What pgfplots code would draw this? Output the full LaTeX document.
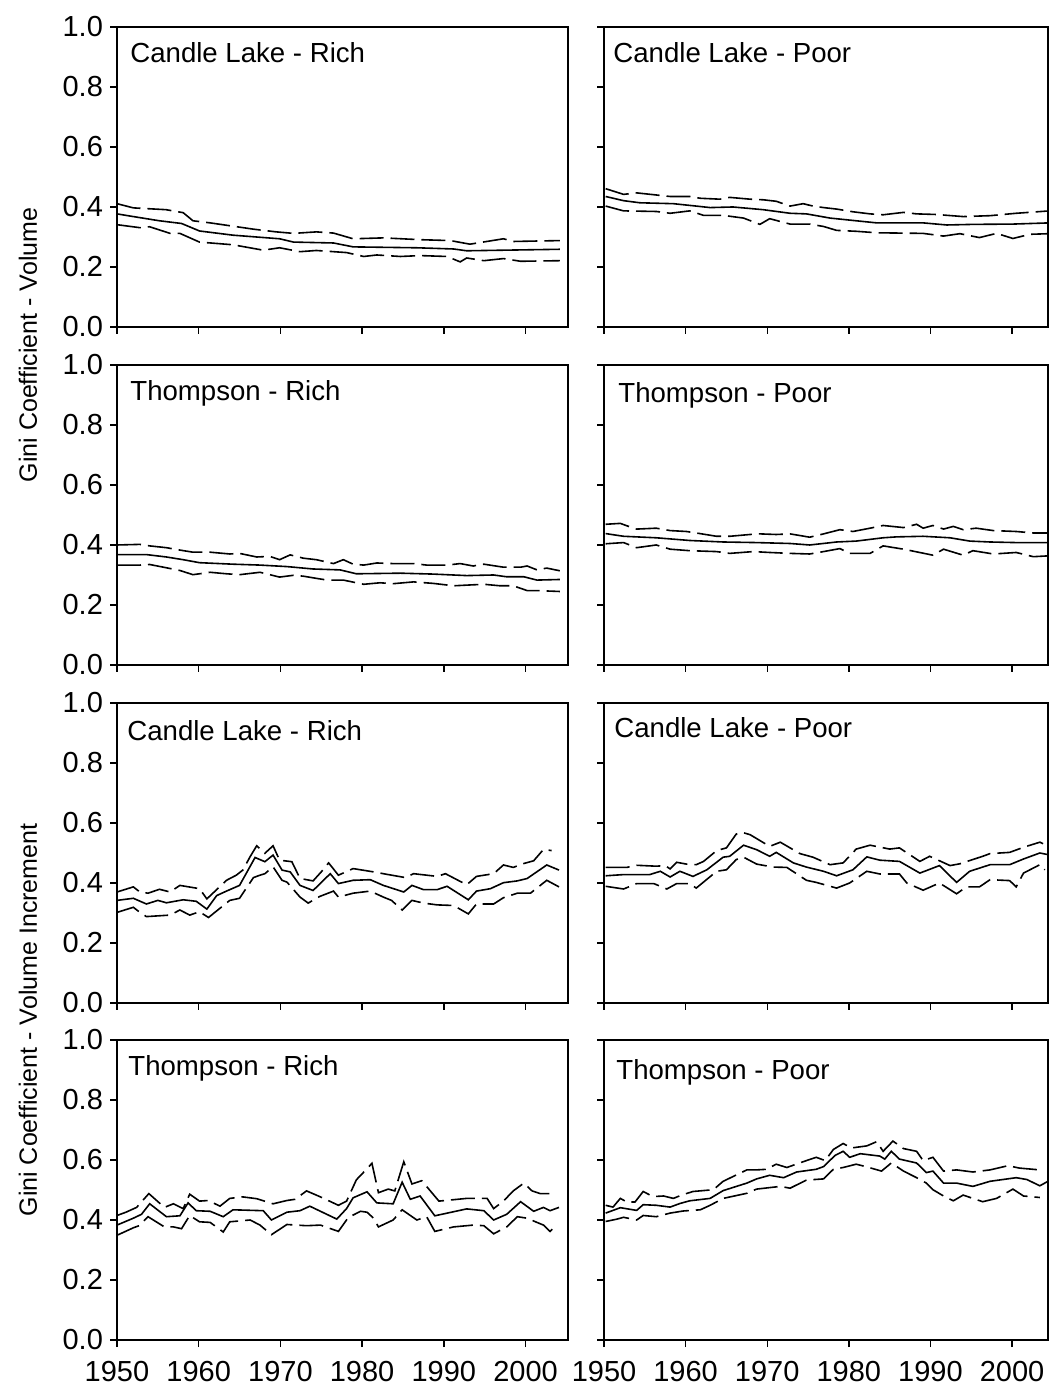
\documentclass[border=0pt]{standalone}
\usepackage{pgfplots}
\pgfplotsset{compat=1.18}
\usepackage{fontspec}
\setmainfont{Liberation Sans}
\pgfplotsset{
  panel/.style={
    scale only axis, height=150pt, ymin=0, ymax=1,
    xtick={1950,1960,1970,1980,1990,2000},
    ytick={0,0.2,0.4,0.6,0.8,1},
    tick align=outside, xtick pos=bottom, ytick pos=left,
    major tick length=3.5pt,
    axis line style={line width=0.7pt},
    every tick/.style={line width=0.7pt, black},
    tick label style={font=\fontsize{14.5}{17}\selectfont},
    /pgf/number format/assume math mode=true,
    xticklabel style={/pgf/number format/1000 sep={}, yshift=-3.5pt},
    yticklabel style={/pgf/number format/.cd, fixed, fixed zerofill, precision=1},
    clip=true,
  },
  leftp/.style={panel, width=225.5pt, xmin=1950, xmax=2005.2},
  rightp/.style={panel, width=222pt, xmin=1950, xmax=2004.4, yticklabels={}},
  mid/.style={black, line width=0.8pt},
  band/.style={black, line width=0.8pt, dash pattern=on 12pt off 3.5pt},
}
\newcommand{\ptitle}[3]{\node[anchor=north west, inner sep=0pt, font=\fontsize{13.8}{16}\selectfont] at (rel axis cs:0,1) [xshift=#1, yshift=#2] {#3};}
\begin{document}
\begin{tikzpicture}
\useasboundingbox (0,0) rectangle (524.5pt,695.5pt);
% ---------- Row 1 ----------
\begin{axis}[leftp, at={(58.5pt,532pt)}, anchor=south west, xticklabels={}]
\addplot[mid] coordinates {(1950,0.377)(1952,0.368)(1955.2,0.354)(1957.9,0.345)(1960.1,0.320)(1964.2,0.306)(1969.9,0.294)(1971.6,0.283)(1976.5,0.280)(1978.9,0.267)(1986.7,0.264)(1991.2,0.260)(1992.8,0.254)(2004.2,0.259)};
\addplot[band] coordinates {(1950,0.411)(1952,0.397)(1956,0.391)(1958.1,0.381)(1959.3,0.354)(1961.4,0.347)(1964.2,0.336)(1966.7,0.326)(1969.5,0.317)(1971.6,0.312)(1974.4,0.317)(1976.5,0.313)(1978.9,0.294)(1982.6,0.297)(1987.1,0.291)(1990.8,0.288)(1993.2,0.276)(1997.3,0.294)(1998.5,0.285)(2004.2,0.288)};
\addplot[band] coordinates {(1950,0.341)(1952.8,0.331)(1954,0.334)(1956.5,0.312)(1957.7,0.312)(1960.1,0.283)(1964.2,0.274)(1967.9,0.256)(1969.9,0.264)(1972.4,0.251)(1974.4,0.255)(1978.1,0.248)(1980.2,0.235)(1981.8,0.240)(1984.7,0.235)(1987.1,0.238)(1990.4,0.235)(1992,0.217)(1992.8,0.230)(1994.9,0.221)(1997.3,0.228)(1999.4,0.219)(2004.2,0.221)};
\ptitle{6.5pt}{-7.5pt}{Candle Lake - Rich}
\end{axis}
\begin{axis}[rightp, at={(302pt,532pt)}, anchor=south west, xticklabels={}]
\addplot[mid] coordinates {(1950.2,0.435)(1952.4,0.421)(1954.4,0.414)(1958.5,0.411)(1961.3,0.403)(1963,0.398)(1965.8,0.400)(1969.5,0.391)(1972.8,0.379)(1974.8,0.377)(1977.7,0.363)(1980.9,0.354)(1983.4,0.347)(1989.1,0.347)(1992,0.340)(1995.2,0.342)(2000.1,0.343)(2004.6,0.347)};
\addplot[band] coordinates {(1950.2,0.461)(1952.4,0.442)(1954,0.447)(1956.4,0.440)(1958.1,0.435)(1960.5,0.435)(1961.8,0.429)(1964.2,0.426)(1965.4,0.432)(1967.9,0.426)(1969.5,0.424)(1971.1,0.419)(1972.8,0.403)(1974.4,0.411)(1975.6,0.403)(1976.9,0.398)(1978.5,0.393)(1980.5,0.384)(1982.6,0.377)(1984.2,0.374)(1986.7,0.382)(1988.3,0.377)(1990.7,0.375)(1994,0.368)(1997.3,0.371)(2000.5,0.379)(2004.6,0.387)};
\addplot[band] coordinates {(1950.2,0.403)(1952.4,0.387)(1956.4,0.385)(1958.1,0.379)(1960.5,0.387)(1962.2,0.372)(1964.6,0.372)(1967.1,0.363)(1969.1,0.342)(1970.3,0.361)(1972.8,0.343)(1975.2,0.343)(1976.9,0.335)(1978.5,0.322)(1980.9,0.319)(1983.4,0.314)(1989.1,0.312)(1991.6,0.303)(1993.6,0.311)(1996,0.298)(1998.1,0.312)(2000.1,0.295)(2002.2,0.309)(2004.6,0.311)};
\ptitle{4.5pt}{-7.5pt}{Candle Lake - Poor}
\end{axis}
% ---------- Row 2 ----------
\begin{axis}[leftp, at={(58.5pt,363pt)}, anchor=south west, xticklabels={}]
\addplot[mid] coordinates {(1950,0.368)(1953.6,0.368)(1956.05,0.360)(1958.1,0.351)(1960.1,0.341)(1964.2,0.336)(1967.5,0.333)(1970.8,0.328)(1974,0.320)(1977.3,0.317)(1979.3,0.304)(1984.7,0.306)(1988.7,0.303)(1992.8,0.298)(1996.1,0.300)(1997.7,0.294)(1999.8,0.294)(2001.4,0.283)(2004.2,0.285)};
\addplot[band] coordinates {(1950,0.400)(1952.8,0.402)(1954,0.397)(1956.05,0.391)(1957.7,0.383)(1959.3,0.376)(1961.4,0.376)(1963.8,0.370)(1965,0.372)(1967.1,0.360)(1968.7,0.362)(1969.9,0.351)(1971.2,0.367)(1972.8,0.356)(1974.4,0.351)(1976.5,0.338)(1977.7,0.351)(1978.9,0.336)(1980.2,0.333)(1981.8,0.340)(1983.8,0.338)(1986.3,0.338)(1987.9,0.333)(1990.4,0.333)(1992,0.338)(1993.6,0.330)(1994.9,0.336)(1997.3,0.326)(1999.4,0.326)(2000.2,0.330)(2001.4,0.317)(2002.6,0.323)(2004.2,0.314)};
\addplot[band] coordinates {(1950,0.333)(1952.8,0.333)(1954,0.335)(1956.05,0.324)(1957.7,0.315)(1959.3,0.301)(1961.4,0.309)(1963.4,0.304)(1965,0.301)(1967.5,0.309)(1968.7,0.301)(1969.9,0.293)(1971.6,0.299)(1972.8,0.296)(1975.7,0.283)(1977.7,0.283)(1980.2,0.269)(1982.2,0.274)(1983.8,0.271)(1986.3,0.277)(1988.7,0.272)(1991.2,0.264)(1994.9,0.269)(1996.9,0.264)(1998.5,0.264)(2000.2,0.248)(2001.4,0.248)(2004.2,0.245)};
\ptitle{6.5pt}{-7.5pt}{Thompson - Rich}
\end{axis}
\begin{axis}[rightp, at={(302pt,363pt)}, anchor=south west, xticklabels={}]
\addplot[mid] coordinates {(1950.2,0.438)(1952.4,0.429)(1956.4,0.424)(1960.5,0.415)(1964.6,0.410)(1968.7,0.408)(1972.8,0.405)(1975.2,0.400)(1978.5,0.410)(1980.9,0.413)(1984.2,0.424)(1985.8,0.427)(1989.1,0.429)(1992.4,0.424)(1994.8,0.413)(1997.3,0.410)(2000.5,0.408)(2004.6,0.408)};
\addplot[band] coordinates {(1950.2,0.469)(1952,0.472)(1952.8,0.464)(1954,0.453)(1956.4,0.456)(1958.1,0.448)(1960.1,0.445)(1961.3,0.440)(1963.8,0.429)(1965.4,0.429)(1967.9,0.435)(1969.1,0.437)(1971.1,0.435)(1972.8,0.437)(1975.2,0.426)(1976.9,0.437)(1978.9,0.451)(1980.5,0.445)(1982.6,0.456)(1984.2,0.465)(1986.7,0.458)(1988.3,0.469)(1989.1,0.456)(1990.3,0.465)(1991.6,0.453)(1992.8,0.462)(1994,0.451)(1995.6,0.456)(1997.7,0.448)(2000.5,0.445)(2002.6,0.440)(2004.6,0.440)};
\addplot[band] coordinates {(1950.2,0.404)(1952.4,0.408)(1954,0.391)(1956.4,0.400)(1958.1,0.386)(1960.5,0.381)(1963.8,0.378)(1965.4,0.372)(1968.3,0.378)(1970.3,0.375)(1972.8,0.372)(1975.2,0.370)(1976.9,0.378)(1978.9,0.388)(1980.1,0.372)(1982.6,0.372)(1984.2,0.397)(1986.7,0.386)(1990.3,0.366)(1991.6,0.386)(1994,0.366)(1995.2,0.381)(1997.7,0.370)(2000.5,0.375)(2002.6,0.361)(2004.6,0.364)};
\ptitle{7pt}{-8.5pt}{Thompson - Poor}
\end{axis}
% ---------- Row 3 ----------
\begin{axis}[leftp, at={(58.5pt,194pt)}, anchor=south west, xticklabels={}]
\addplot[mid] coordinates {(1950,0.342)(1952,0.349)(1953.6,0.330)(1955,0.342)(1956.05,0.334)(1958.1,0.344)(1959.7,0.339)(1961,0.313)(1962.2,0.358)(1963.4,0.373)(1965,0.392)(1966.9,0.485)(1968.1,0.471)(1969.1,0.493)(1970.2,0.443)(1971.2,0.437)(1972.4,0.392)(1974,0.375)(1976.1,0.431)(1977.1,0.398)(1978.9,0.409)(1981,0.411)(1982.6,0.392)(1985.1,0.370)(1986.1,0.392)(1987.5,0.378)(1989.2,0.378)(1990.4,0.389)(1993,0.344)(1994,0.373)(1995.7,0.381)(1997.3,0.401)(1999,0.407)(2000.2,0.415)(2002.6,0.460)(2004.1,0.443)};
\addplot[band] coordinates {(1950,0.370)(1952,0.387)(1952.8,0.370)(1953.8,0.366)(1955.2,0.379)(1956.5,0.370)(1957.7,0.392)(1960.1,0.381)(1961,0.347)(1963.4,0.409)(1964.6,0.426)(1965.4,0.443)(1966.3,0.488)(1967.1,0.524)(1968.1,0.499)(1969.1,0.524)(1969.9,0.476)(1971.4,0.471)(1972.4,0.415)(1974,0.407)(1975,0.437)(1975.9,0.467)(1977.1,0.426)(1978.9,0.448)(1981.4,0.437)(1983,0.429)(1985.3,0.418)(1986.3,0.431)(1989.2,0.422)(1990.2,0.431)(1992.8,0.394)(1994,0.422)(1996.1,0.431)(1997.3,0.460)(1998.5,0.452)(1999.8,0.465)(2001,0.474)(2002.2,0.512)(2003.2,0.508)};
\addplot[band] coordinates {(1950,0.302)(1952,0.319)(1952.8,0.302)(1953.6,0.288)(1956.5,0.293)(1957.7,0.310)(1958.9,0.293)(1960.1,0.304)(1961.2,0.285)(1963.8,0.342)(1965,0.349)(1966.7,0.418)(1967.5,0.426)(1968.1,0.431)(1969.1,0.454)(1970.2,0.409)(1970.8,0.403)(1972.4,0.353)(1973.4,0.333)(1974.8,0.355)(1976.5,0.373)(1977.1,0.353)(1978.9,0.366)(1981,0.373)(1982.6,0.353)(1983.6,0.342)(1984.9,0.310)(1986.1,0.342)(1987.5,0.333)(1989.2,0.327)(1991.2,0.325)(1993,0.297)(1994,0.330)(1996.1,0.330)(1997.3,0.351)(1999,0.366)(2000.6,0.366)(2002.6,0.409)(2004.1,0.387)};
\ptitle{5pt}{-8.5pt}{Candle Lake - Rich}
\end{axis}
\begin{axis}[rightp, at={(302pt,194pt)}, anchor=south west, xticklabels={}]
\addplot[mid] coordinates {(1950.2,0.424)(1952.4,0.428)(1955.6,0.428)(1956.9,0.439)(1958.1,0.420)(1959.3,0.439)(1960.9,0.422)(1962.6,0.444)(1964.6,0.486)(1965.4,0.489)(1967.1,0.526)(1968.7,0.511)(1970.3,0.489)(1971.1,0.502)(1973.2,0.467)(1974.8,0.453)(1976.9,0.439)(1978.5,0.424)(1980.5,0.444)(1982.2,0.487)(1983.8,0.476)(1986.2,0.472)(1988.7,0.433)(1991.1,0.458)(1993.2,0.402)(1994.8,0.439)(1997.3,0.461)(1999.7,0.461)(2001.4,0.480)(2003.4,0.500)(2004.5,0.494)};
\addplot[band] coordinates {(1950.2,0.452)(1952.8,0.452)(1954,0.459)(1956.4,0.456)(1957.5,0.458)(1958.1,0.447)(1958.9,0.469)(1960.1,0.463)(1961.3,0.461)(1962.2,0.472)(1963.8,0.508)(1965,0.517)(1966.2,0.563)(1966.9,0.569)(1967.9,0.561)(1970.3,0.522)(1971.6,0.536)(1974,0.498)(1975.6,0.486)(1977.7,0.461)(1979.3,0.467)(1980.9,0.513)(1982.6,0.526)(1985,0.513)(1986.2,0.517)(1988.7,0.472)(1989.9,0.489)(1992.4,0.458)(1993.6,0.464)(1996.4,0.489)(1997.3,0.498)(1999.7,0.502)(2001.4,0.519)(2003.4,0.536)(2003.8,0.531)};
\addplot[band] coordinates {(1950.2,0.389)(1952.4,0.380)(1954,0.398)(1956.1,0.398)(1957.7,0.380)(1958.9,0.398)(1960.5,0.398)(1961.3,0.383)(1963.8,0.439)(1965,0.444)(1966.2,0.478)(1967.1,0.486)(1968.7,0.463)(1970.7,0.453)(1972.4,0.452)(1974.8,0.409)(1976,0.402)(1978.5,0.383)(1980.1,0.400)(1982.2,0.439)(1983.8,0.430)(1986.2,0.430)(1987.1,0.400)(1989.1,0.376)(1991.1,0.400)(1993.2,0.364)(1994.4,0.387)(1996,0.387)(1997.3,0.411)(1999.7,0.408)(2000.5,0.387)(2001.4,0.433)(2003.4,0.461)(2004,0.444)};
\ptitle{5pt}{-7pt}{Candle Lake - Poor}
\end{axis}
% ---------- Row 4 ----------
\begin{axis}[leftp, at={(58.5pt,25.5pt)}, anchor=south west]
\addplot[mid] coordinates {(1950,0.383)(1952,0.406)(1953,0.419)(1954,0.454)(1956.05,0.411)(1957.7,0.414)(1958.7,0.457)(1959.7,0.431)(1961.4,0.429)(1963,0.411)(1964.2,0.434)(1967.9,0.431)(1968.9,0.400)(1970.8,0.426)(1972.4,0.431)(1973.6,0.446)(1976.9,0.403)(1978.1,0.438)(1978.9,0.474)(1980.6,0.494)(1981.8,0.457)(1983.8,0.454)(1984.9,0.526)(1985.9,0.469)(1987.1,0.480)(1988.9,0.414)(1992.8,0.437)(1994.9,0.431)(1996.1,0.400)(1997.7,0.419)(1999.4,0.461)(2001,0.429)(2002.2,0.442)(2003,0.431)(2004.1,0.442)};
\addplot[band] coordinates {(1950,0.415)(1951.1,0.426)(1952.4,0.442)(1953.9,0.488)(1955.8,0.442)(1956.9,0.454)(1958.1,0.438)(1958.9,0.486)(1960.1,0.463)(1961.2,0.465)(1962.6,0.446)(1963.8,0.472)(1965.4,0.477)(1967.1,0.471)(1969.1,0.454)(1970.8,0.465)(1971.8,0.469)(1973.2,0.497)(1974.9,0.477)(1977.1,0.449)(1978.1,0.463)(1979.3,0.534)(1980.6,0.571)(1981.2,0.589)(1982,0.491)(1983.2,0.503)(1984,0.497)(1985.1,0.594)(1986.1,0.520)(1987.3,0.531)(1989.4,0.463)(1990.2,0.465)(1992.8,0.472)(1994,0.472)(1995.3,0.472)(1996.1,0.438)(1997.3,0.463)(1998.5,0.497)(1999.8,0.523)(2000.8,0.497)(2001.8,0.488)(2003.2,0.488)};
\addplot[band] coordinates {(1950,0.349)(1952,0.374)(1952.7,0.381)(1953.8,0.411)(1955.8,0.377)(1956.9,0.377)(1957.9,0.371)(1958.9,0.415)(1960.1,0.394)(1961.4,0.392)(1963,0.360)(1963.8,0.394)(1966.3,0.400)(1967.5,0.383)(1968.9,0.351)(1970.8,0.385)(1973.2,0.381)(1974.9,0.383)(1977.1,0.362)(1978.3,0.408)(1979.8,0.429)(1980.6,0.426)(1981.4,0.406)(1982,0.377)(1983.8,0.400)(1984.9,0.434)(1986.7,0.400)(1987.9,0.411)(1988.9,0.362)(1991.2,0.377)(1993.6,0.383)(1994.9,0.381)(1996.1,0.354)(1997.7,0.377)(1999,0.411)(2000.2,0.406)(2001.4,0.392)(2002.2,0.383)(2003,0.362)(2003.9,0.385)};
\ptitle{5.5pt}{-7.5pt}{Thompson - Rich}
\end{axis}
\begin{axis}[rightp, at={(302pt,25.5pt)}, anchor=south west]
\addplot[mid] coordinates {(1950.2,0.423)(1952,0.441)(1954,0.432)(1954.8,0.451)(1956.4,0.449)(1958.1,0.443)(1959.3,0.455)(1960.5,0.464)(1963,0.472)(1964.6,0.498)(1967.5,0.523)(1968.7,0.537)(1970.3,0.549)(1972,0.541)(1973.6,0.560)(1976,0.569)(1976.9,0.578)(1978.3,0.615)(1979.3,0.629)(1980.1,0.609)(1981.4,0.621)(1983.8,0.613)(1984.4,0.603)(1985.2,0.629)(1986.2,0.603)(1988.3,0.590)(1989.5,0.558)(1990.3,0.563)(1991.6,0.523)(1993.2,0.523)(1995.2,0.512)(1997.3,0.529)(2000.5,0.541)(2001.8,0.535)(2003.4,0.514)(2004.4,0.529)};
\addplot[band] coordinates {(1950.2,0.449)(1951.1,0.443)(1952,0.472)(1952.8,0.460)(1953.8,0.460)(1954.8,0.495)(1956,0.478)(1957.3,0.480)(1958.5,0.472)(1959.5,0.483)(1960.9,0.495)(1963.4,0.501)(1964.6,0.529)(1967.5,0.567)(1968.7,0.567)(1969.9,0.569)(1971.1,0.586)(1972.4,0.575)(1974.8,0.598)(1976,0.609)(1977.1,0.598)(1978.1,0.635)(1979.3,0.655)(1980.3,0.640)(1982.2,0.647)(1983.4,0.661)(1984.2,0.629)(1985.4,0.663)(1986.7,0.638)(1988.3,0.629)(1989.1,0.598)(1990.3,0.609)(1991.6,0.563)(1993.2,0.567)(1995.2,0.560)(1997.3,0.567)(1999.5,0.581)(2000.9,0.573)(2003.4,0.567)};
\addplot[band] coordinates {(1950.2,0.395)(1951.6,0.403)(1952.4,0.409)(1954,0.400)(1954.8,0.415)(1956.4,0.411)(1958.1,0.423)(1959.7,0.430)(1961.8,0.434)(1963,0.449)(1964.6,0.472)(1967.5,0.489)(1968.7,0.503)(1971.6,0.512)(1972.8,0.506)(1974.8,0.533)(1976.9,0.537)(1978.1,0.569)(1979.3,0.575)(1980.9,0.586)(1982.2,0.577)(1984,0.563)(1985.2,0.590)(1986.7,0.563)(1988.3,0.541)(1989.5,0.523)(1990.3,0.501)(1991.6,0.480)(1992.8,0.464)(1994,0.483)(1996.4,0.461)(1998.1,0.472)(2000.1,0.503)(2001.4,0.480)(2003.4,0.475)};
\ptitle{6pt}{-9.5pt}{Thompson - Poor}
\end{axis}
% ---------- y labels ----------
\node[rotate=90, font=\fontsize{12.5}{15}\selectfont] at (14pt,523pt) {Gini Coefficient - Volume};
\node[rotate=90, font=\fontsize{12.5}{15}\selectfont] at (14pt,185.5pt) {Gini Coefficient - Volume Increment};
\end{tikzpicture}
\end{document}
